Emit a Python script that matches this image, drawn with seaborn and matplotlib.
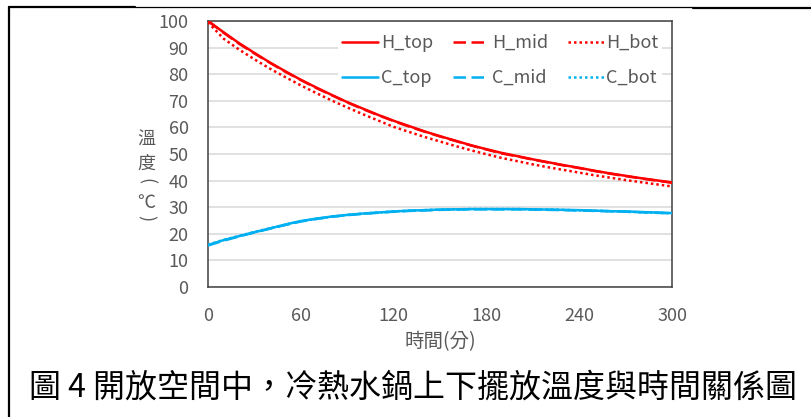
import matplotlib
matplotlib.use("Agg")
import matplotlib.pyplot as plt
import pandas as pd
import seaborn as sns
from matplotlib.lines import Line2D

# time (min) and temperature readings (°C)
minutes = [0, 10, 20, 30, 40, 50, 60, 70, 80, 90, 100, 110, 120, 130, 140, 150,
           160, 170, 180, 190, 200, 210, 220, 230, 240, 250, 260, 270, 280, 290, 300]

h_top = [100, 95.8, 91.7, 88.0, 84.4, 81.1, 77.9, 75.0, 72.2, 69.5, 67.1, 64.7, 62.5, 60.5, 58.5, 56.7,
         55.0, 53.3, 51.8, 50.4, 49.2, 48.0, 46.9, 45.8, 44.8, 43.7, 42.7, 41.8, 40.9, 40.1, 39.3]
h_mid = [100, 95.6, 91.5, 87.8, 84.3, 80.9, 77.8, 74.8, 72.1, 69.4, 66.9, 64.6, 62.4, 60.3, 58.4, 56.6,
         54.9, 53.2, 51.7, 50.2, 49.1, 47.9, 46.8, 45.7, 44.7, 43.6, 42.6, 41.7, 40.8, 40.0, 39.2]
h_bot = [99.5, 93.4, 89.3, 85.6, 82.1, 78.9, 75.8, 72.9, 70.1, 67.5, 65.0, 62.6, 60.2, 58.3, 56.4, 54.7,
         53.0, 51.4, 49.9, 48.5, 47.3, 46.1, 45.0, 44.0, 43.0, 42.0, 41.1, 40.2, 39.4, 38.6, 37.8]

c_top = [15.8, 17.6, 19.1, 20.6, 22.0, 23.5, 24.8, 25.7, 26.5, 27.1, 27.6, 28.0, 28.4, 28.7, 28.9, 29.1,
         29.2, 29.3, 29.3, 29.3, 29.3, 29.2, 29.1, 29.0, 28.9, 28.7, 28.5, 28.4, 28.2, 28.0, 27.8]
c_mid = [15.6, 17.4, 19.0, 20.5, 21.9, 23.3, 24.6, 25.6, 26.4, 27.0, 27.5, 27.9, 28.3, 28.6, 28.8, 29.0,
         29.1, 29.2, 29.2, 29.2, 29.2, 29.1, 29.0, 28.9, 28.8, 28.6, 28.5, 28.3, 28.1, 27.9, 27.7]
c_bot = [15.9, 17.7, 19.2, 20.7, 22.1, 23.4, 24.7, 25.6, 26.4, 27.1, 27.6, 28.0, 28.4, 28.7, 28.9, 29.1,
         29.2, 29.3, 29.3, 29.3, 29.3, 29.2, 29.1, 29.0, 28.8, 28.7, 28.5, 28.3, 28.1, 27.9, 27.7]

series_names = ["H_top", "H_mid", "H_bot", "C_top", "C_mid", "C_bot"]
series_vals = [h_top, h_mid, h_bot, c_top, c_mid, c_bot]

x_ticks = [0, 60, 120, 180, 240, 300]
y_ticks = [0, 10, 20, 30, 40, 50, 60, 70, 80, 90, 100]

RED = "#FF0000"
BLUE = "#00B0F0"
GRAY_TXT = "#595959"

sns.set_theme(style="white")
plt.rcParams["font.family"] = ["Noto Sans CJK TC", "DejaVu Sans"]

df = pd.DataFrame({"minutes": minutes})
for name, vals in zip(series_names, series_vals):
    df[name] = vals

styles = {
    "H_top": (RED, "-"), "H_mid": (RED, (0, (5, 2.2))), "H_bot": (RED, (0, (1, 1.2))),
    "C_top": (BLUE, "-"), "C_mid": (BLUE, (0, (5, 2.2))), "C_bot": (BLUE, (0, (1, 1.2))),
}

fig = plt.figure(figsize=(8.12, 4.17), dpi=100)
ax = fig.add_axes([208 / 812, 1 - 287 / 417, 464 / 812, 266 / 417])

handles = {}
for name in series_names:
    color, ls = styles[name]
    sns.lineplot(data=df, x="minutes", y=name, ax=ax, color=color, linestyle=ls,
                 linewidth=1.8, zorder=3)
    handles[name] = Line2D([], [], color=color, linestyle=ls, linewidth=1.8)

ax.set_xlim(0, 300)
ax.set_ylim(0, 100)
ax.set_xticks(x_ticks)
ax.set_yticks(y_ticks)
ax.tick_params(axis="both", length=0, labelsize=13, labelcolor=GRAY_TXT)
ax.tick_params(axis="x", pad=14.5)
ax.tick_params(axis="y", pad=14)
ax.grid(axis="y", color="#D9D9D9", linewidth=1.1, zorder=0)
ax.grid(axis="x", visible=False)
for sp in ax.spines.values():
    sp.set_visible(True)
    sp.set_color("#404040")
    sp.set_linewidth(1.1)

ax.set_ylabel("")
ax.set_xlabel("時間(分)", fontsize=14, color=GRAY_TXT)
ax.xaxis.set_label_coords(0.5, -(342 - 287) / 266)
ax.xaxis.label.set_va("center")

# stacked vertical y label (brackets turned to vertical form)
for ch, ypix, rot in [("溫", 140, 0), ("度", 164, 0), ("(", 181, -90), ("℃", 203, 0), (")", 218, -90)]:
    fig.text(146 / 812, 1 - ypix / 417, ch, ha="center", va="center", rotation=rot,
             fontsize=13, color=GRAY_TXT)

order = ["H_top", "C_top", "H_mid", "C_mid", "H_bot", "C_bot"]
leg = ax.legend([handles[n] for n in order], order, ncol=3, loc="center",
                bbox_to_anchor=(0.63, 0.8515), fontsize=13, frameon=True,
                facecolor="white", edgecolor="none", framealpha=1,
                handlelength=2.0, handletextpad=0.15, columnspacing=1.1,
                labelspacing=0.95, borderpad=0.2)
for t in leg.get_texts():
    t.set_color(GRAY_TXT)

fig.text(413 / 812, 1 - 388 / 417, "圖 4 開放空間中，冷熱水鍋上下擺放溫度與時間關係圖",
         ha="center", va="center", fontsize=23, color="black")

# page frame lines
fig.add_artist(Line2D([9 / 812, 9 / 812], [1 - 7 / 417, 0], transform=fig.transFigure,
                      color="black", linewidth=1.6))
fig.add_artist(Line2D([9 / 812, 135 / 812], [1 - 7 / 417, 1 - 7 / 417], transform=fig.transFigure,
                      color="black", linewidth=1.6))
fig.add_artist(Line2D([135 / 812, 693 / 812], [1 - 7 / 417, 1 - 7 / 417], transform=fig.transFigure,
                      color="black", linewidth=0.9))
fig.add_artist(Line2D([693 / 812, 1], [1 - 8 / 417, 1 - 8 / 417], transform=fig.transFigure,
                      color="black", linewidth=1.6))

fig.savefig("out.png", dpi=100)
